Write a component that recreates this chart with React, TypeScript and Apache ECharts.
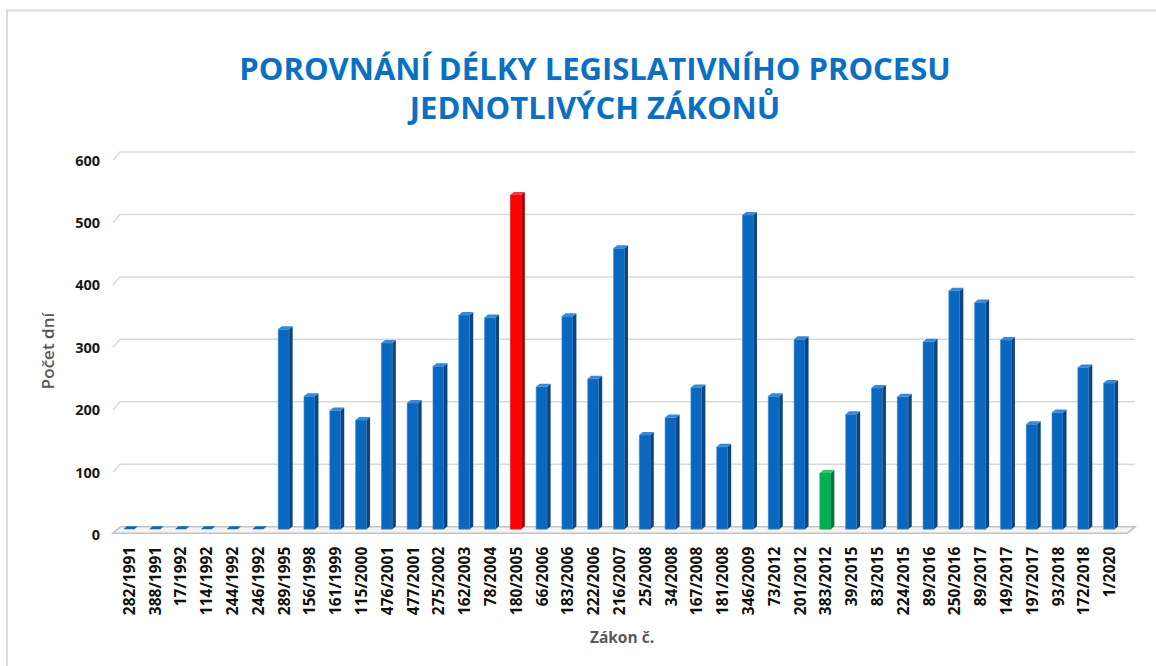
import React, { useEffect, useRef } from "react";
import * as echarts from "echarts";

const categories = [
  "282/1991", "388/1991", "17/1992", "114/1992", "244/1992", "246/1992",
  "289/1995", "156/1998", "161/1999", "115/2000", "476/2001", "477/2001",
  "275/2002", "162/2003", "78/2004", "180/2005", "66/2006", "183/2006",
  "222/2006", "216/2007", "25/2008", "34/2008", "167/2008", "181/2008",
  "346/2009", "73/2012", "201/2012", "383/2012", "39/2015", "83/2015",
  "224/2015", "89/2016", "250/2016", "89/2017", "149/2017", "197/2017",
  "93/2018", "172/2018", "1/2020",
];

const days = [
  0, 0, 0, 0, 0, 0,
  320, 213, 190, 175, 298, 202,
  261, 343, 339, 535, 228, 341,
  241, 450, 151, 179, 227, 132,
  503, 213, 304, 90, 184, 226,
  212, 300, 382, 363, 303, 168,
  187, 259, 234,
];

const yTicks = [0, 100, 200, 300, 400, 500, 600];

const longestLaw = "180/2005";
const shortestLaw = "383/2012";

const titleText = "POROVNÁNÍ DÉLKY LEGISLATIVNÍHO PROCESU\nJEDNOTLIVÝCH ZÁKONŮ";
const yName = "Počet dní";
const xName = "Zákon č.";

const palette = {
  normal: { front: "#0868C0", side: "#0C4580", top: "#3D87D0", edge: "#4F8FD6" },
  longest: { front: "#FF0000", side: "#A80000", top: "#E84040", edge: "#C03030" },
  shortest: { front: "#00B050", side: "#00793A", top: "#30C470", edge: "#20A060" },
};

const FONT = "'Open Sans', 'Noto Sans', sans-serif";

function colorsFor(cat: string) {
  if (cat === longestLaw) return palette.longest;
  if (cat === shortestLaw) return palette.shortest;
  return palette.normal;
}

export default function App() {
  const ref = useRef<HTMLDivElement>(null);

  useEffect(() => {
    if (!ref.current) return;
    const chart = echarts.init(ref.current, undefined, { renderer: "svg" });

    const wallRender = (params: any, api: any) => {
      const t = api.value(1);
      const band = api.size([1, 0])[0];
      const first = api.coord([0, t]);
      const last = api.coord([categories.length - 1, t]);
      const L = first[0] - band / 2;
      const R = last[0] + band / 2;
      const y = first[1];
      if (t === 0) {
        return {
          type: "polygon",
          shape: {
            points: [
              [L - 3, y + 6.5],
              [L + 4.5, y],
              [R + 13, y],
              [R + 5.5, y + 6.5],
            ],
          },
          style: { fill: "#f4f4f4", stroke: "#c4c4c4", lineWidth: 1.6 },
        };
      }
      return {
        type: "polyline",
        shape: {
          points: [
            [L - 3, y + 8],
            [L + 4, y],
            [R + 13, y],
          ],
        },
        style: { fill: "none", stroke: "#d9d9d9", lineWidth: 1.5 },
      };
    };

    const barRender = (params: any, api: any) => {
      const idx = api.value(0);
      const v = api.value(1);
      const c = colorsFor(categories[idx]);
      const top = api.coord([idx, v]);
      const base = api.coord([idx, 0]);
      const w = 11;
      const dx = 3.5;
      const dy = 3;
      const x0 = top[0] - w / 2;
      const x1 = top[0] + w / 2;
      const yB = base[1] + 2.5;
      const yT = top[1] + 2.5;
      const children: any[] = [];
      const flat = yB - yT <= 0.5;
      if (!flat) {
        children.push({
          type: "rect",
          shape: { x: x0, y: yT, width: w, height: yB - yT },
          style: { fill: c.front, stroke: c.edge, lineWidth: 0.6 },
        });
        children.push({
          type: "polygon",
          shape: {
            points: [
              [x1, yT],
              [x1 + dx, yT - dy],
              [x1 + dx, yB - dy],
              [x1, yB],
            ],
          },
          style: { fill: c.side },
        });
      }
      children.push({
        type: "polygon",
        shape: {
          points: [
            [x0, yT],
            [x0 + dx, yT - dy],
            [x1 + dx, yT - dy],
            [x1, yT],
          ],
        },
        style: { fill: flat ? c.front : c.top },
      });
      return { type: "group", children };
    };

    chart.setOption({
      animation: false,
      backgroundColor: "#ffffff",
      title: {
        text: titleText,
        left: 590,
        top: 43,
        textAlign: "center",
        textStyle: {
          color: "#0A70C4",
          fontSize: 31,
          fontWeight: "bold",
          fontFamily: FONT,
          lineHeight: 39,
        },
      },
      grid: { left: 116, right: 34, top: 152, bottom: 139.3 },
      xAxis: {
        type: "category",
        data: categories,
        boundaryGap: true,
        axisLine: { show: false },
        axisTick: { show: false },
        splitLine: { show: false },
        axisLabel: {
          interval: 0,
          rotate: 90,
          margin: 20,
          color: "#111111",
          fontSize: 15.5,
          fontWeight: "bold",
          fontFamily: FONT,
        },
      },
      yAxis: {
        type: "value",
        min: 0,
        max: 600,
        interval: 100,
        axisLine: { show: false },
        axisTick: { show: false },
        splitLine: { show: false },
        axisLabel: {
          margin: 16,
          color: "#1a1a1a",
          fontSize: 14.5,
          fontWeight: "bold",
          fontFamily: FONT,
          verticalAlign: "top",
          lineHeight: 16,
        },
      },
      graphic: [
        {
          type: "rect",
          z: -10,
          shape: { x: 7, y: 10.5, width: 1200, height: 700 },
          style: { fill: "none", stroke: "#dcdcdc", lineWidth: 2 },
        },
        {
          type: "text",
          x: 47,
          y: 351,
          rotation: Math.PI / 2,
          style: {
            text: yName,
            fill: "#595959",
            font: `600 17px ${FONT}`,
            align: "center",
            verticalAlign: "middle",
          },
        },
        {
          type: "text",
          x: 622,
          y: 637,
          style: {
            text: xName,
            fill: "#595959",
            font: `bold 15.5px ${FONT}`,
            align: "center",
            verticalAlign: "middle",
          },
        },
      ],
      series: [
        {
          type: "custom",
          name: "wall",
          clip: false,
          silent: true,
          z: 1,
          renderItem: wallRender,
          encode: { x: 0, y: 1 },
          data: yTicks.map((t) => [0, t]),
        },
        {
          type: "custom",
          name: yName,
          clip: false,
          z: 2,
          renderItem: barRender,
          encode: { x: 0, y: 1 },
          data: days.map((v, i) => [i, v]),
        },
      ],
    });

    return () => chart.dispose();
  }, []);

  return (
    <div
      ref={ref}
      style={{ position: "absolute", left: 0, top: 0, width: 1156, height: 666 }}
    />
  );
}
